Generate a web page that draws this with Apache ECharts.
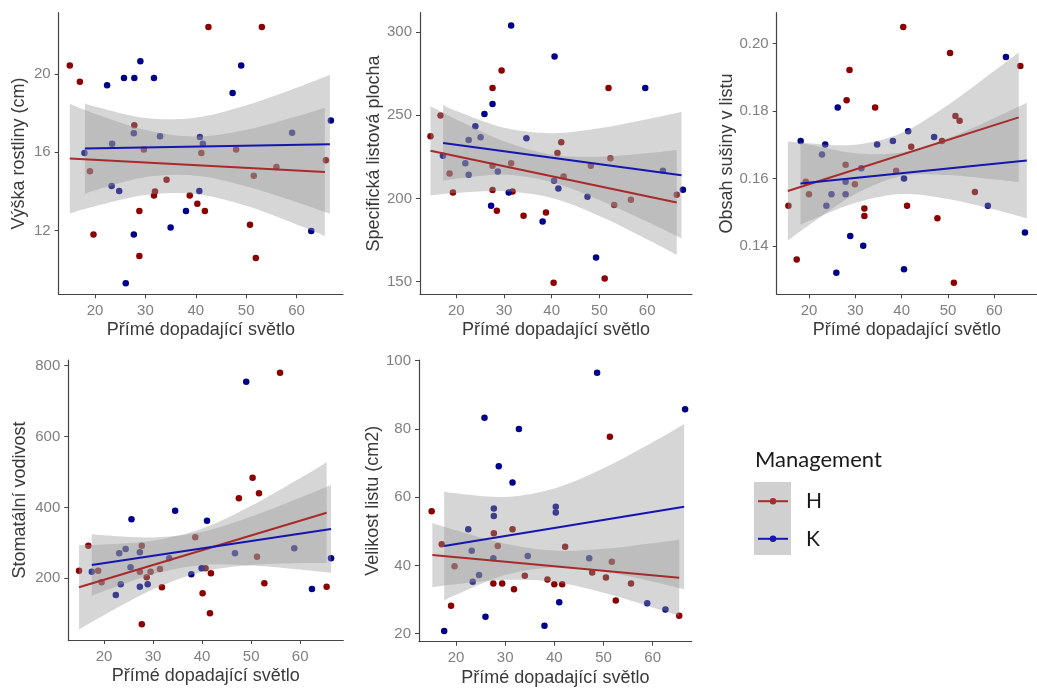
<!DOCTYPE html>
<html><head><meta charset="utf-8">
<script src="https://cdn.jsdelivr.net/npm/echarts@6/dist/echarts.min.js"></script>
<style>html,body{margin:0;padding:0;background:#fff}#c{width:1037px;height:688px}</style>
</head><body><div id="c"></div>
<script>
const xTicks = [20, 30, 40, 50, 60];
const xTitle = 'Přímé dopadající světlo';
const groups = ['H', 'K'];

// Panel 1 – Výška rostliny (cm)
const vyskaTicks = [12, 16, 20];
const vyskaH = [[15.0,20.44],[17.0,19.6],[19.7,11.8],[28.8,10.7],[28.8,13.0],[31.7,13.8],[31.9,14.0],[34.2,14.6],[38.8,13.8],[40.3,13.38],[41.8,13.0],[42.5,22.4],[53.1,22.4],[50.75,12.3],[51.9,10.6],[27.8,17.38],[19.0,15.03],[29.7,16.15],[41.1,15.96],[48.0,16.15],[51.5,14.8],[56.0,15.25],[65.8,15.6]];
const vyskaK = [[22.4,19.42],[25.75,19.8],[27.8,19.8],[29.0,20.65],[31.7,19.8],[47.3,19.03],[49.0,20.44],[66.8,17.63],[27.7,11.8],[26.1,9.31],[35.0,12.16],[38.05,13.0],[40.7,14.02],[62.9,11.98],[17.9,15.96],[23.4,16.44],[23.3,14.28],[24.8,14.02],[27.7,16.98],[32.9,16.82],[40.8,16.78],[41.4,16.44],[59.1,17.0]];
const vyskaFitH = [[15.0,15.68],[65.6,15.0]];
const vyskaFitK = [[18.0,16.19],[66.6,16.41]];
const vyskaBandH = [[15,12.88,18.48],[20,13.25,17.97],[30,13.82,17.14],[40,13.87,16.81],[50,13.27,17.15],[60,12.32,17.84],[65.6,11.73,18.27]];
const vyskaBandK = [[18,13.86,18.5],[20,14.06,18.34],[30,14.73,17.75],[40,14.81,17.77],[50,14.26,18.4],[60,13.46,19.3],[66.6,12.86,19.96]];

// Panel 2 – Specifická listová plocha
const slaTicks = [150, 200, 250, 300];
const slaH = [[29.5,276.8],[27.6,266.4],[51.9,266.4],[16.7,249.9],[14.6,237.3],[19.3,203.6],[27.6,205.0],[28.5,192.6],[31.8,204.2],[34.1,189.6],[38.8,191.6],[40.4,149.4],[51.1,151.9],[41.2,227.3],[42.0,233.7],[42.5,213.2],[48.2,219.7],[52.3,224.1],[53.1,196.0],[56.6,199.2],[66.2,202.2],[18.6,215.0],[31.5,221.1],[27.6,219.7]];
const slaK = [[31.5,303.9],[40.6,285.3],[59.6,266.4],[27.6,256.8],[25.9,250.8],[27.3,195.6],[38.1,186.2],[49.3,164.5],[67.5,205.2],[31.0,203.6],[24.0,243.3],[22.6,235.1],[25.1,236.7],[34.7,236.1],[21.9,221.1],[22.6,214.2],[28.7,216.2],[17.2,225.7],[40.5,210.6],[41.4,206.0],[47.5,201.0],[63.3,216.6]];
const slaFitH = [[14.6,228.6],[66.2,197.6]];
const slaFitK = [[17.25,233.3],[67.2,214.0]];
const slaBandH = [[14.6,201.8,255.4],[20,203.3,247.5],[30,204.3,234.4],[40,200.3,226.3],[50,189.5,225.1],[60,175.4,227.2],[66.2,166.1,229.1]];
const slaBandK = [[17.25,210.6,256.1],[20,211.8,252.6],[30,214.3,242.5],[40,209.8,239.2],[50,199.0,242.2],[60,186.0,247.6],[67.2,176.0,252.0]];

// Panel 3 – Obsah sušiny v listu
const ldmcTicks = [0.14, 0.16, 0.18, 0.20];
const ldmcH = [[15.56,0.1519],[17.34,0.136],[28.74,0.1921],[28.12,0.1832],[34.27,0.181],[31.95,0.1511],[31.95,0.1489],[40.34,0.2049],[41.16,0.1519],[47.71,0.1482],[50.44,0.1972],[51.26,0.1291],[65.6,0.1933],[19.3,0.159],[20.0,0.1553],[27.9,0.1641],[29.9,0.1583],[38.8,0.1623],[42.05,0.1694],[51.6,0.1785],[52.5,0.1771],[55.8,0.156],[48.7,0.1711]];
const ldmcK = [[26.2,0.181],[28.9,0.143],[31.7,0.1401],[25.9,0.1321],[40.5,0.1331],[62.5,0.196],[66.6,0.144],[18.2,0.1711],[23.5,0.1701],[22.8,0.1671],[23.75,0.1519],[24.85,0.1553],[27.9,0.1553],[27.9,0.159],[31.3,0.163],[34.7,0.1701],[38.1,0.1711],[40.5,0.16],[41.4,0.174],[47.0,0.1723],[58.6,0.1519]];
const ldmcFitH = [[15.43,0.1563],[65.26,0.1781]];
const ldmcFitK = [[18.16,0.1585],[67,0.1653]];
const ldmcBandH = [[15.43,0.1416,0.1710],[20,0.1462,0.1704],[30,0.1554,0.1700],[40,0.1607,0.1735],[50,0.1610,0.1818],[60,0.1597,0.1919],[65.26,0.1589,0.1973]];
const ldmcBandK = [[18.16,0.1463,0.1707],[20,0.1474,0.1701],[30,0.1528,0.1675],[40,0.1554,0.1677],[50,0.1539,0.1719],[60,0.1508,0.1779],[67,0.1482,0.1824]];

// Panel 4 – Stomatální vodivost
const gsTicks = [200, 400, 600, 800];
const gsH = [[14.9,221.6],[16.8,292.1],[27.7,70.2],[31.8,174.6],[40.1,157.7],[41.6,101.3],[41.8,214.1],[47.5,425.7],[50.3,484.0],[51.6,439.8],[52.7,185.9],[55.9,780.2],[65.4,176.5],[18.8,221.6],[19.5,188.7],[27.7,292.1],[27.3,218.8],[28.7,202.8],[29.5,218.8],[31.4,226.3],[38.6,315.7],[40.7,228.2],[51.2,261.1]];
const gsK = [[25.6,366.4],[34.5,390.9],[41.0,362.7],[49.0,754.8],[22.4,153.0],[27.3,176.5],[37.8,211.3],[62.4,169.9],[66.3,256.4],[17.5,218.8],[23.1,270.5],[24.4,282.7],[23.4,183.1],[25.4,231.0],[27.3,273.3],[33.3,256.4],[39.9,228.2],[46.7,270.5],[58.8,284.6],[28.9,183.1]];
const gsFitH = [[14.9,174.6],[65.4,385.2]];
const gsFitK = [[17.5,237.6],[66.3,339.2]];
const gsBandH = [[14.9,55.6,293.6],[20,96.4,295.4],[30,168.9,306.3],[40,218.1,340.5],[50,237.5,404.5],[60,242.7,482.7],[65.4,243.2,527.2]];
const gsBandK = [[17.5,150.6,324.6],[20,164.0,321.6],[30,211.7,315.5],[40,237.5,331.3],[50,236.5,374.1],[60,224.6,427.6],[66.3,215.2,463.2]];

// Panel 5 – Velikost listu (cm2)
const listTicks = [20, 40, 60, 80, 100];
const listH = [[15.05,55.9],[19.0,28.2],[27.6,34.7],[29.4,34.7],[31.8,33.0],[51.3,77.7],[52.5,29.7],[65.4,25.3],[17.1,46.2],[19.7,39.8],[27.7,49.4],[28.5,45.7],[31.5,50.6],[34.0,37.0],[38.6,35.9],[40.0,34.5],[41.6,34.5],[42.2,45.5],[47.7,37.9],[50.5,36.5],[51.7,41.1],[55.6,34.7]];
const listK = [[17.6,20.8],[25.8,83.3],[32.8,80.0],[28.7,69.1],[31.5,64.3],[48.7,96.5],[66.6,85.8],[26.0,25.0],[38.0,22.3],[41.0,29.2],[22.5,50.6],[23.2,44.3],[23.4,35.2],[24.7,37.2],[27.7,56.7],[27.7,54.5],[27.6,42.1],[34.6,42.8],[40.3,57.2],[40.3,55.5],[47.1,42.1],[58.9,28.9],[62.6,27.1]];
const listFitH = [[15.2,43.05],[65.4,36.4]];
const listFitK = [[17.6,45.7],[66.4,57.2]];
const listBandH = [[15.2,33.65,52.45],[20,34.52,50.3],[30,35.79,46.39],[40,35.17,44.35],[50,32.02,44.86],[60,27.7,46.52],[65.4,25.2,47.6]];
const listBandK = [[17.6,29.7,61.7],[20,31.41,61.13],[30,37.17,60.07],[40,39.4,62.56],[50,38.2,68.48],[60,35.27,76.11],[66.4,33.0,81.4]];

const panels = [
  {title:'Výška rostliny (cm)', H:vyskaH, K:vyskaK, fitH:vyskaFitH, fitK:vyskaFitK, bandH:vyskaBandH, bandK:vyskaBandK, ticks:vyskaTicks,
   left:58.7, top:12.7, width:284.3, height:281.6, xmin:12.8, xmax:69.2, ymin:8.75, ymax:23.13, gap:31, dec:0},
  {title:'Specifická listová plocha', H:slaH, K:slaK, fitH:slaFitH, fitK:slaFitK, bandH:slaBandH, bandK:slaBandK, ticks:slaTicks,
   left:420, top:12.7, width:272, height:281.6, xmin:12.4, xmax:69.4, ymin:142.4, ymax:311.6, gap:33, dec:0},
  {title:'Obsah sušiny v listu', H:ldmcH, K:ldmcK, fitH:ldmcFitH, fitK:ldmcFitK, bandH:ldmcBandH, bandK:ldmcBandK, ticks:ldmcTicks,
   left:776.7, top:12.7, width:274.3, height:281.6, xmin:13.03, xmax:69.2, ymin:0.1257, ymax:0.2091, gap:41, dec:2},
  {title:'Stomatální vodivost', H:gsH, K:gsK, fitH:gsFitH, fitK:gsFitK, bandH:gsBandH, bandK:gsBandK, ticks:gsTicks,
   left:68.3, top:360, width:275, height:280, xmin:12.71, xmax:68.8, ymin:26, ymax:816, gap:39, dec:0},
  {title:'Velikost listu (cm2)', H:listH, K:listK, fitH:listFitH, fitK:listFitK, bandH:listBandH, bandK:listBandK, ticks:listTicks,
   left:419, top:360, width:272.7, height:281.7, xmin:12.48, xmax:67.94, ymin:17.66, ymax:100.2, gap:36, dec:0}
];

const FONT = '"Liberation Sans", Arial, sans-serif';
const LEGEND_FONT = 'Lato, "Open Sans", sans-serif';
const pointColor = {H:'#8b0000', K:'#00008b'};
const lineColor = {H:'#a82a2a', K:'#1515b0'};
const axisColor = '#444444';

// Catmull-Rom curve through pixel points (drawing only)
function curve(pts) {
  const out = [], n = pts.length;
  for (let i = 0; i < n - 1; i++) {
    const p0 = pts[Math.max(i - 1, 0)], p1 = pts[i], p2 = pts[i + 1], p3 = pts[Math.min(i + 2, n - 1)];
    for (let s = 0; s < 12; s++) {
      const t = s / 12, t2 = t * t, t3 = t2 * t;
      out.push([0, 1].map(k => 0.5 * (2 * p1[k] + (-p0[k] + p2[k]) * t +
        (2 * p0[k] - 5 * p1[k] + 4 * p2[k] - p3[k]) * t2 + (-p0[k] + 3 * p1[k] - 3 * p2[k] + p3[k]) * t3)));
    }
  }
  out.push(pts[n - 1]);
  return out;
}

function bandSeries(i, band) {
  return {
    type:'custom', xAxisIndex:i, yAxisIndex:i, silent:true, z:3, data:band,
    renderItem: function (params, api) {
      if (params.dataIndex !== 0) return null;
      const upper = curve(band.map(r => api.coord([r[0], r[2]])));
      const lower = curve(band.map(r => api.coord([r[0], r[1]])));
      return {type:'polygon', shape:{points:upper.concat(lower.reverse())},
              style:{fill:'rgba(153,153,153,0.4)'}};
    }
  };
}

const grid = [], xAxis = [], yAxis = [], lines = [], others = [];
panels.forEach((p, i) => {
  grid.push({left:p.left, top:p.top, width:p.width, height:p.height, containLabel:false});
  xAxis.push({
    type:'value', gridIndex:i, min:p.xmin, max:p.xmax,
    name:xTitle, nameLocation:'middle', nameGap:27,
    nameTextStyle:{fontFamily:FONT, fontSize:18, color:'#3a3a3a'},
    axisLine:{lineStyle:{color:axisColor, width:1.2}},
    axisTick:{customValues:xTicks, length:4, lineStyle:{color:axisColor}},
    axisLabel:{customValues:xTicks, margin:9, color:'#808080', fontSize:15, fontFamily:FONT},
    splitLine:{show:false}
  });
  yAxis.push({
    type:'value', gridIndex:i, min:p.ymin, max:p.ymax,
    name:p.title, nameLocation:'middle', nameGap:p.gap, nameRotate:90,
    nameTextStyle:{fontFamily:FONT, fontSize:18, color:'#3a3a3a'},
    axisLine:{lineStyle:{color:axisColor, width:1.2}},
    axisTick:{customValues:p.ticks, length:4, lineStyle:{color:axisColor}},
    axisLabel:{customValues:p.ticks, margin:8, color:'#808080', fontSize:15, fontFamily:FONT,
               formatter:(v) => Number(v).toFixed(p.dec)},
    splitLine:{show:false}
  });
  groups.forEach(g => {
    lines.push({type:'line', name:g, xAxisIndex:i, yAxisIndex:i, data:p['fit' + g], symbol:'none',
                color:lineColor[g], lineStyle:{width:2, color:lineColor[g]}, z:5, silent:true, animation:false});
    others.push({type:'scatter', name:g, xAxisIndex:i, yAxisIndex:i, data:p[g], symbolSize:6.5,
                 itemStyle:{color:pointColor[g], opacity:1}, z:2, silent:true});
    others.push(bandSeries(i, p['band' + g]));
  });
});

const chart = echarts.init(document.getElementById('c'));
chart.setOption({
  animation:false,
  backgroundColor:'#ffffff',
  title:{text:'Management', left:755, top:449, padding:0,
         textStyle:{fontFamily:LEGEND_FONT, fontSize:22, fontWeight:'normal', color:'#1a1a1a'}},
  legend:{data:groups, orient:'vertical', left:757, top:490.7, padding:0, itemWidth:30, itemHeight:8, itemGap:16.6,
          selectedMode:false,
          textStyle:{fontFamily:LEGEND_FONT, fontSize:21, color:'#1a1a1a', lineHeight:20, padding:[0,0,0,13]}},
  graphic:[{type:'rect', left:754, top:482, z:0, shape:{width:37, height:73}, style:{fill:'#d0d0d0'}, silent:true}],
  grid:grid, xAxis:xAxis, yAxis:yAxis,
  series:lines.concat(others)
});
</script></body></html>
